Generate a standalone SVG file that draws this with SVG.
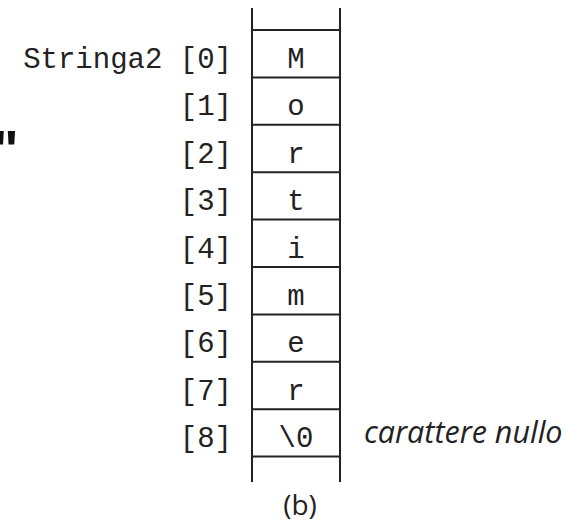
<svg xmlns="http://www.w3.org/2000/svg" width="566" height="525" viewBox="0 0 566 525">
<style>
.mono{font-family:"Liberation Mono","DejaVu Sans Mono",monospace;font-size:29px;fill:#222}
.idx{text-anchor:end}
.cell{text-anchor:middle}
.line{stroke:#222;stroke-width:2;fill:none}
.ital{font-family:"Open Sans","DejaVu Sans",sans-serif;font-style:italic;font-size:30.5px;fill:#222}
.cap{font-family:"Open Sans","DejaVu Sans",sans-serif;font-size:28px;fill:#222;text-anchor:middle}
</style>
<rect width="566" height="525" fill="#fff"/>
<text x="-7" y="168" style="font-family:'Liberation Sans',sans-serif;font-weight:bold;font-size:54px;fill:#111">"</text>
<g id="connectors">
<line class="line" x1="252" y1="8" x2="252" y2="482"/>
<line class="line" x1="340" y1="8" x2="340" y2="482"/>
</g>
<g id="array">
<line class="line" x1="252" y1="30" x2="340" y2="30"/>
<line class="line" x1="252" y1="77.4" x2="340" y2="77.4"/>
<line class="line" x1="252" y1="124.8" x2="340" y2="124.8"/>
<line class="line" x1="252" y1="172.2" x2="340" y2="172.2"/>
<line class="line" x1="252" y1="219.6" x2="340" y2="219.6"/>
<line class="line" x1="252" y1="267" x2="340" y2="267"/>
<line class="line" x1="252" y1="314.4" x2="340" y2="314.4"/>
<line class="line" x1="252" y1="361.8" x2="340" y2="361.8"/>
<line class="line" x1="252" y1="409.2" x2="340" y2="409.2"/>
<line class="line" x1="252" y1="456.6" x2="340" y2="456.6"/>
</g>
<g id="row0"><text class="mono idx" x="232" y="68">Stringa2 [0]</text><text class="mono cell" x="296" y="68">M</text></g>
<g id="row1"><text class="mono idx" x="232" y="115.4">[1]</text><text class="mono cell" x="296" y="115.4">o</text></g>
<g id="row2"><text class="mono idx" x="232" y="162.8">[2]</text><text class="mono cell" x="296" y="162.8">r</text></g>
<g id="row3"><text class="mono idx" x="232" y="210.2">[3]</text><text class="mono cell" x="296" y="210.2">t</text></g>
<g id="row4"><text class="mono idx" x="232" y="257.6">[4]</text><text class="mono cell" x="296" y="257.6">i</text></g>
<g id="row5"><text class="mono idx" x="232" y="305">[5]</text><text class="mono cell" x="296" y="305">m</text></g>
<g id="row6"><text class="mono idx" x="232" y="352.4">[6]</text><text class="mono cell" x="296" y="352.4">e</text></g>
<g id="row7"><text class="mono idx" x="232" y="399.8">[7]</text><text class="mono cell" x="296" y="399.8">r</text></g>
<g id="row8"><text class="mono idx" x="232" y="447.2">[8]</text><text class="mono cell" x="296" y="447.2">\0</text><text class="ital" x="364" y="443">carattere nullo</text></g>
<g id="caption"><text class="cap" x="300" y="515">(b)</text></g>
</svg>
